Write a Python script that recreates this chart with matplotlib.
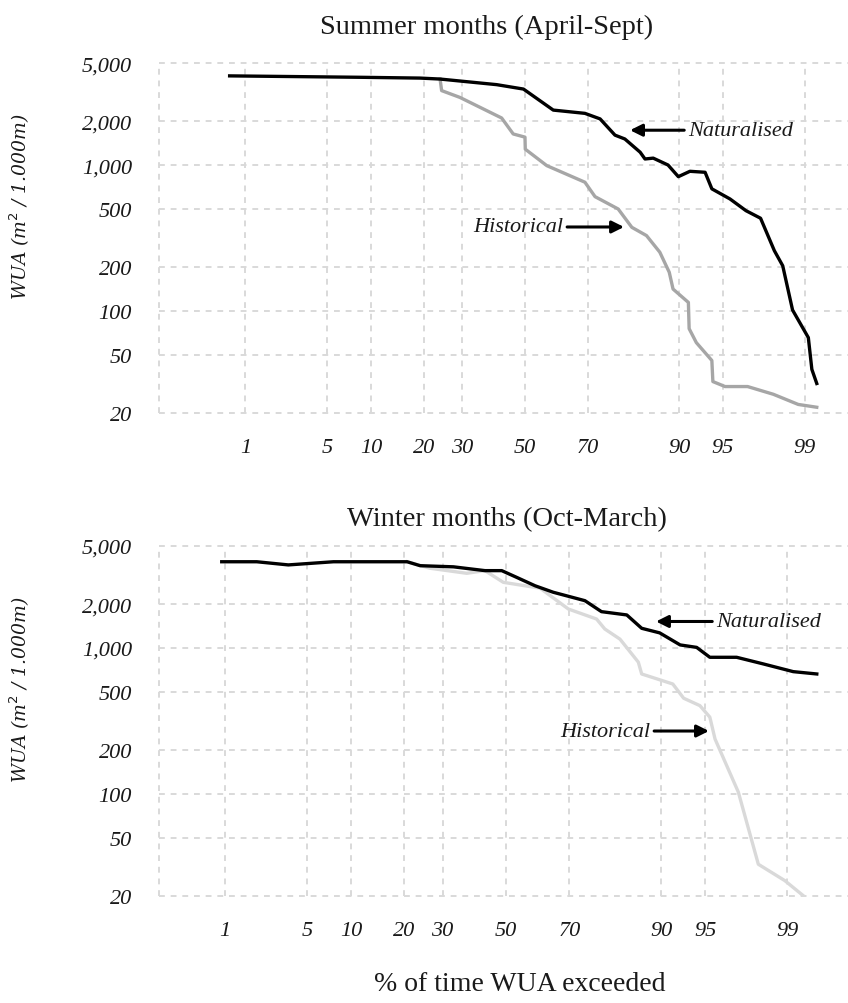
import numpy as np
import matplotlib
matplotlib.use("Agg")
import matplotlib.pyplot as plt
from matplotlib.ticker import FixedLocator, NullLocator, FuncFormatter
from statistics import NormalDist

# ---------------- data ----------------
x_ticks = [1, 5, 10, 20, 30, 50, 70, 90, 95, 99]
y_ticks = [20, 50, 100, 200, 500, 1000, 2000, 5000]

summer_nat_p = [0.7, 8.5, 19.1, 24.0, 40.7, 49.5, 59.3, 69.1, 73.4, 77.3, 79.7, 83.1, 84.1, 85.7,
                88.3, 89.9, 91.5, 93.3, 94.0, 95.6, 96.7, 97.5, 98.1, 98.4, 98.7, 99.08, 99.15, 99.24]
summer_nat_w = [4100, 4010, 3960, 3900, 3570, 3330, 2390, 2270, 2080, 1610, 1515, 1230, 1105, 1120,
                1005, 836, 910, 896, 690, 588, 489, 434, 260, 205, 102, 66, 40, 32]

summer_his_p = [24.0, 24.4, 29.4, 42.3, 46.1, 50.0, 50.1, 57.2, 69.1, 72.0, 78.1, 81.3, 84.4, 86.9,
                88.5, 89.1, 91.3, 91.4, 92.3, 94.0, 94.1, 95.2, 96.8, 98.06, 98.85, 99.24]
summer_his_w = [3900, 3250, 2920, 2110, 1640, 1560, 1290, 995, 766, 610, 502, 376, 330, 254,
                185, 142, 115, 76, 61, 46, 33, 30.5, 30.5, 27, 23, 22]

winter_nat_p = [0.94, 1.97, 3.6, 7.7, 20.7, 23.9, 33.2, 43.1, 48.6, 53.5, 59.5, 65.2, 74.3, 78.5,
                84.1, 86.9, 89.8, 92.5, 94.25, 95.4, 97.17, 98.33, 99.12, 99.49]
winter_nat_w = [3900, 3900, 3710, 3900, 3900, 3665, 3600, 3390, 3390, 3050, 2670, 2410, 2110, 1775,
                1685, 1365, 1270, 1050, 1010, 864, 864, 778, 689, 664]

winter_his_p = [20.7, 26.5, 37.3, 43.1, 49.1, 61.1, 69.7, 77.3, 79.3, 82.7, 86.3, 86.9, 91.6, 92.9,
                94.55, 95.4, 95.8, 97.26, 98.15, 98.94, 99.30]
winter_his_w = [3900, 3520, 3250, 3390, 2820, 2570, 1850, 1580, 1350, 1150, 800, 664, 567, 453,
                403, 336, 238, 103, 33, 25.5, 20.1]

titles = ["Summer months (April-Sept)", "Winter months (Oct-March)"]
y_label = "WUA (m$^2$ / 1.000m)"
x_label = "% of time WUA exceeded"

# ---------------- probability scale ----------------
_nd = NormalDist()
_ppf = np.vectorize(_nd.inv_cdf, otypes=[float])
_cdf = np.vectorize(_nd.cdf, otypes=[float])


def fwd(p):
    p = np.clip(np.asarray(p, dtype=float) / 100.0, 1e-9, 1 - 1e-9)
    return _ppf(p)


def inv(z):
    return _cdf(np.asarray(z, dtype=float)) * 100.0


SERIF = ["Liberation Serif", "DejaVu Serif"]
W, H = 848, 1004
fig = plt.figure(figsize=(W / 100, H / 100), dpi=100)

GRID_C = "#d9d9d9"
TXT_C = "#1a1a1a"


def setup(ax, xlim):
    ax.set_xscale("function", functions=(fwd, inv))
    ax.set_yscale("log")
    ax.set_xlim(*xlim)
    ax.set_ylim(20, 5000)
    ax.xaxis.set_major_locator(FixedLocator(x_ticks))
    ax.xaxis.set_minor_locator(NullLocator())
    ax.yaxis.set_major_locator(FixedLocator(y_ticks))
    ax.yaxis.set_minor_locator(NullLocator())
    ax.xaxis.set_major_formatter(FuncFormatter(lambda v, pos: f"{v:g}"))
    ax.yaxis.set_major_formatter(FuncFormatter(lambda v, pos: f"{v:,.0f}"))
    for s in ax.spines.values():
        s.set_visible(False)
    ax.tick_params(axis="both", length=0, labelcolor=TXT_C)
    ax.tick_params(axis="y", pad=19.5)
    ax.tick_params(axis="x", pad=18)
    for lab in ax.get_xticklabels() + ax.get_yticklabels():
        lab.set_fontfamily(SERIF)
        lab.set_fontstyle("italic")
        lab.set_fontsize(16)
    ax.grid(True, color=GRID_C, linestyle=(0, (3, 3)), linewidth=1.4)
    for gl in ax.get_xgridlines() + ax.get_ygridlines():
        gl.set_clip_on(False)
    ax.axvline(xlim[0], color=GRID_C, linestyle=(0, (3, 3)), linewidth=1.4, clip_on=False)
    ax.set_axisbelow(True)


arrow_kw = dict(arrowstyle="-|>", color="black", lw=2.2, mutation_scale=18, shrinkA=1, shrinkB=0)
ann_font = dict(fontsize=16, fontstyle="italic", fontfamily=SERIF, va="center", color=TXT_C)

# ---- top panel ----
ax1 = fig.add_axes([159 / W, 1 - 414.3 / H, (W - 159) / W, 350 / H])
setup(ax1, (0.1164, 99.64))
ax1.plot(summer_his_p, summer_his_w, color="#a6a6a6", lw=2.4, solid_joinstyle="round")
ax1.plot(summer_nat_p, summer_nat_w, color="black", lw=2.4, solid_joinstyle="round")
ax1.annotate("Naturalised", xy=(80.9, 1740), xytext=(91.3, 1740), ha="left",
             arrowprops=arrow_kw, **ann_font)
ax1.annotate("Historical", xy=(79.5, 378), xytext=(62.4, 378), ha="right",
             arrowprops=arrow_kw, **ann_font)

# ---- bottom panel ----
ax2 = fig.add_axes([159 / W, 1 - 897 / H, (W - 159) / W, 350 / H])
setup(ax2, (0.2066, 99.765))
ax2.plot(winter_his_p, winter_his_w, color="#d9d9d9", lw=2.4, solid_joinstyle="round")
ax2.plot(winter_nat_p, winter_nat_w, color="black", lw=2.4, solid_joinstyle="round")
ax2.annotate("Naturalised", xy=(89.25, 1520), xytext=(95.9, 1520), ha="left",
             arrowprops=arrow_kw, **ann_font)
ax2.annotate("Historical", xy=(95.33, 270), xytext=(88.3, 270), ha="right",
             arrowprops=arrow_kw, **ann_font)

# ---- titles / axis labels ----
fig.text(487 / W, 1 - 27 / H, titles[0], ha="center", va="center", fontsize=20.5,
         fontfamily=SERIF, color=TXT_C)
fig.text(507 / W, 1 - 520 / H, titles[1], ha="center", va="center", fontsize=20.5,
         fontfamily=SERIF, color=TXT_C)
fig.text(520 / W, 1 - 985 / H, x_label, ha="center", va="center", fontsize=20,
         fontfamily=SERIF, color=TXT_C)
for yc in (207, 690):
    fig.text(20 / W, 1 - yc / H, y_label, ha="center", va="center", rotation=90,
             fontsize=13.5, fontstyle="italic", fontfamily=["DejaVu Serif"], color=TXT_C)

fig.savefig("out.png", dpi=100)
